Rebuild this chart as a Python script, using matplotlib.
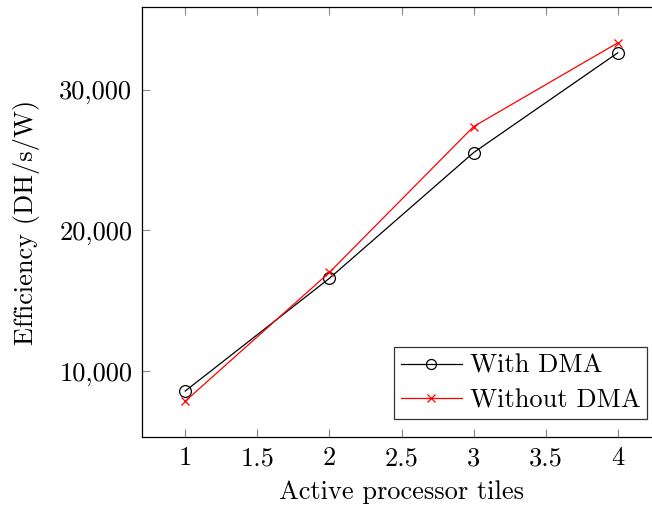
import matplotlib.pyplot as plt
from matplotlib.ticker import FuncFormatter

tiles = [1, 2, 3, 4]
with_dma = [8590, 16600, 25530, 32620]
without_dma = [7870, 17020, 27380, 33330]

plt.rcParams['font.family'] = 'cmr10'
plt.rcParams['mathtext.fontset'] = 'cm'
plt.rcParams['axes.formatter.use_mathtext'] = True

fig = plt.figure(figsize=(6.52, 5.13), dpi=100)
ax = fig.add_axes([142 / 652, 76 / 513, 519 / 652, 430 / 513])

ax.plot(tiles, with_dma, color='black', lw=0.9, marker='o', ms=8.5,
        mfc='none', mec='black', mew=0.9, label='With DMA')
ax.plot(tiles, without_dma, color='red', lw=0.9, marker='x', ms=6,
        mec='red', mew=0.9, label='Without DMA')

ax.set_xlim(0.7, 4.3)
ax.set_ylim(5324, 35876)
ax.set_xticks([1, 1.5, 2, 2.5, 3, 3.5, 4])
ax.set_xticklabels(['1', '1.5', '2', '2.5', '3', '3.5', '4'])
ax.set_yticks([10000, 20000, 30000])
ax.yaxis.set_major_formatter(FuncFormatter(lambda v, p: f'{int(v):,}'))

ax.tick_params(direction='in', length=6, width=0.8, color='#888888',
               top=True, right=True, labelsize=19, pad=7)
for s in ax.spines.values():
    s.set_linewidth(0.9)

ax.set_xlabel('Active processor tiles', fontsize=19, labelpad=7)
ax.set_ylabel('Efficiency (DH/s/W)', fontsize=19, labelpad=14)

leg = ax.legend(loc='lower right', bbox_to_anchor=(0.998, 0.012), fontsize=19,
                frameon=True, fancybox=False, edgecolor='black',
                handlelength=2.3, borderpad=0.25, labelspacing=0.4,
                handletextpad=0.3, markerscale=0.85)
leg.get_frame().set_linewidth(0.9)

fig.savefig('out.png', dpi=100)
